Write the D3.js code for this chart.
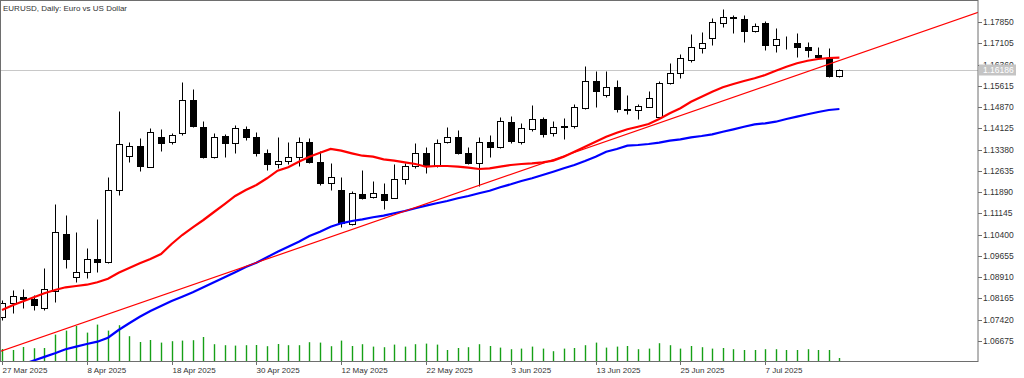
<!DOCTYPE html>
<html><head><meta charset="utf-8">
<script src="https://cdn.jsdelivr.net/npm/d3@7"></script>
<style>html,body{margin:0;padding:0;background:#fff;overflow:hidden}svg{display:block}</style>
</head><body><svg id="c" width="1024" height="378"></svg>
<script>
const dates = ["2025-03-27","2025-03-28","2025-03-31",
"2025-04-01","2025-04-02","2025-04-03","2025-04-04","2025-04-07","2025-04-08","2025-04-09","2025-04-10","2025-04-11","2025-04-14","2025-04-15","2025-04-16","2025-04-17","2025-04-18","2025-04-21","2025-04-22","2025-04-23","2025-04-24","2025-04-25","2025-04-28","2025-04-29","2025-04-30",
"2025-05-01","2025-05-02","2025-05-05","2025-05-06","2025-05-07","2025-05-08","2025-05-09","2025-05-12","2025-05-13","2025-05-14","2025-05-15","2025-05-16","2025-05-19","2025-05-20","2025-05-21","2025-05-22","2025-05-23","2025-05-26","2025-05-27","2025-05-28","2025-05-29","2025-05-30",
"2025-06-02","2025-06-03","2025-06-04","2025-06-05","2025-06-06","2025-06-09","2025-06-10","2025-06-11","2025-06-12","2025-06-13","2025-06-16","2025-06-17","2025-06-18","2025-06-19","2025-06-20","2025-06-23","2025-06-24","2025-06-25","2025-06-26","2025-06-27","2025-06-30",
"2025-07-01","2025-07-02","2025-07-03","2025-07-04","2025-07-07","2025-07-08","2025-07-09","2025-07-10","2025-07-11","2025-07-14","2025-07-15","2025-07-16"];

const open = [1.07505,1.08017,1.08206,1.08146,1.07821,1.08437,1.10423,1.08907,1.09103,1.09537,
1.09432,1.11965,1.13156,1.13506,1.12781,1.13832,1.13636,1.13951,1.15118,1.14161,
1.13110,1.13857,1.13601,1.14102,1.13832,1.13272,1.12865,1.12991,1.13110,1.13636,
1.12956,1.12200,1.11965,1.10763,1.11825,1.11709,1.11825,1.11695,1.12350,1.12806,
1.13250,1.12806,1.13636,1.13811,1.13272,1.12900,1.13657,1.13461,1.14357,1.13657,
1.14091,1.14442,1.13951,1.14182,1.14207,1.14827,1.15794,1.15293,1.15584,1.14802,
1.14767,1.14883,1.14533,1.15703,1.16053,1.16519,1.16929,1.17279,1.17826,1.18015,
1.17945,1.17545,1.17805,1.17044,1.17195,1.17104,1.16985,1.16694,1.16578,1.15958];
const high = [1.08111,1.08462,1.08486,1.08287,1.09243,1.11464,1.11089,1.10504,1.09923,1.10938,
1.12410,1.14743,1.13657,1.13776,1.14126,1.14091,1.13972,1.15759,1.15492,1.14382,
1.13972,1.13927,1.14242,1.14207,1.13986,1.13401,1.13811,1.13636,1.13811,1.13776,
1.13342,1.12900,1.12431,1.11940,1.12665,1.12280,1.12200,1.12865,1.12900,1.13622,
1.13461,1.13741,1.14182,1.14067,1.13461,1.13832,1.13892,1.14512,1.14557,1.14322,
1.14942,1.14533,1.14392,1.14477,1.14978,1.16309,1.16144,1.16144,1.15818,1.15293,
1.14978,1.15443,1.15794,1.16403,1.16729,1.17430,1.17510,1.17980,1.18295,1.18095,
1.18095,1.17826,1.17896,1.17629,1.17360,1.17475,1.17160,1.16985,1.16929,1.16193];
const low = [1.07411,1.07646,1.07821,1.07761,1.07761,1.08052,1.09222,1.08753,1.08872,1.09103,
1.09397,1.11790,1.12956,1.12641,1.12760,1.13342,1.13576,1.13892,1.14182,1.13075,
1.13075,1.13131,1.13272,1.13716,1.13156,1.12665,1.12725,1.12865,1.12806,1.12921,
1.12140,1.11965,1.10679,1.10739,1.11639,1.11690,1.11299,1.11674,1.12175,1.12725,
1.12550,1.12760,1.13601,1.13226,1.12865,1.12105,1.13131,1.13426,1.13622,1.13576,
1.14042,1.13832,1.13857,1.13741,1.14126,1.14802,1.14883,1.15233,1.14708,1.14627,
1.14442,1.14862,1.14512,1.15678,1.15878,1.16459,1.16775,1.17044,1.17685,1.17454,
1.17160,1.17489,1.16869,1.16810,1.16894,1.16613,1.16634,1.16578,1.15913,1.15934];
const close = [1.07996,1.08252,1.08136,1.07936,1.08486,1.10504,1.09548,1.09082,1.09537,1.09443,
1.11965,1.13566,1.13506,1.12806,1.13986,1.13622,1.13892,1.15118,1.14207,1.13110,
1.13832,1.13622,1.14126,1.13804,1.13272,1.12876,1.12981,1.13121,1.13657,1.12956,
1.12200,1.12431,1.10798,1.11849,1.11695,1.11849,1.11615,1.12350,1.12816,1.13250,
1.12806,1.13601,1.13811,1.13272,1.12900,1.13657,1.13461,1.14382,1.13692,1.14126,
1.14442,1.13927,1.14182,1.14207,1.14862,1.15783,1.15443,1.15563,1.14792,1.14767,
1.14907,1.15177,1.15724,1.16074,1.16578,1.16985,1.17104,1.17850,1.18036,1.17980,
1.17545,1.17710,1.17044,1.17244,1.17174,1.16985,1.16869,1.16634,1.15958,1.16186];
const volume = [60,55,70,64,65,132,152,175,142,182,
152,179,124,95,105,92,99,102,104,120,
84,79,77,79,80,74,85,79,79,94,
92,74,102,75,84,72,69,82,72,84,
87,82,55,65,69,84,75,67,59,62,
72,62,49,62,65,79,92,67,72,75,
59,62,89,79,62,75,69,62,65,59,
55,55,59,59,55,55,59,55,55,15];
const maRed = [1.07761,1.07926,1.08066,1.08206,1.08346,1.08462,1.08556,1.08602,1.08647,1.08731,
1.08858,1.09068,1.09232,1.09397,1.09548,1.09723,1.10073,1.10388,1.10658,1.10914,
1.11194,1.11474,1.11755,1.11965,1.12140,1.12375,1.12641,1.12760,1.12956,1.13131,
1.13272,1.13401,1.13342,1.13250,1.13166,1.13131,1.13040,1.12991,1.12935,1.12876,
1.12781,1.12806,1.12806,1.12781,1.12746,1.12700,1.12725,1.12781,1.12841,1.12876,
1.12900,1.12935,1.12991,1.13131,1.13307,1.13482,1.13657,1.13832,1.13972,1.14091,
1.14182,1.14277,1.14452,1.14652,1.14827,1.15058,1.15233,1.15408,1.15563,1.15678,
1.15783,1.15878,1.15993,1.16144,1.16284,1.16403,1.16494,1.16554,1.16589,1.16599];
const maBlue = [1.05589,1.05729,1.05862,1.05992,1.06118,1.06244,1.06384,1.06476,1.06570,1.06651,
1.06791,1.07060,1.07295,1.07526,1.07726,1.07901,1.08076,1.08227,1.08381,1.08556,
1.08731,1.08907,1.09082,1.09267,1.09418,1.09607,1.09803,1.09979,1.10154,1.10353,
1.10504,1.10679,1.10798,1.10879,1.10938,1.11009,1.11065,1.11149,1.11229,1.11324,
1.11415,1.11499,1.11580,1.11674,1.11755,1.11849,1.11940,1.12059,1.12165,1.12280,
1.12375,1.12490,1.12606,1.12725,1.12841,1.12981,1.13131,1.13307,1.13401,1.13517,
1.13541,1.13576,1.13622,1.13692,1.13741,1.13811,1.13857,1.13916,1.14007,1.14091,
1.14182,1.14266,1.14301,1.14357,1.14452,1.14533,1.14617,1.14697,1.14767,1.14802];
const trendIdx = [0, 79];
const trendPrice = [1.0633, 1.1650];
const priceTicks = ["1.06675","1.07420","1.08165","1.08910","1.09655","1.10400","1.11145","1.11890",
"1.12635","1.13380","1.14125","1.14870","1.15615","1.16360","1.17105","1.17850"];
const dateTickIdx = [0,8,16,24,32,40,48,56,64,72];
const dateTickLabels = ["27 Mar 2025","8 Apr 2025","18 Apr 2025","30 Apr 2025","12 May 2025",
"22 May 2025","3 Jun 2025","13 Jun 2025","25 Jun 2025","7 Jul 2025"];
const lastPrice = 1.16186;
const title = "EURUSD, Daily:  Euro vs US Dollar";

const L = 1, T = 1, R = 978, B = 361;
const svg = d3.select("#c");
const FONT = "'Liberation Sans', Arial, sans-serif";
const x = d3.scaleLinear().domain([0, 79]).range([2, 2 + 79 * 10.6]);
const y = d3.scaleLinear().domain([1.06675, 1.17850]).range([341, 22]);
const vy = d3.scaleLinear().domain([0, 200]).range([B, B - 40]);

svg.append("defs").append("clipPath").attr("id", "clip")
  .append("rect").attr("x", L).attr("y", T).attr("width", R - L).attr("height", B - T);

const plot = svg.append("g").attr("clip-path", "url(#clip)");
const cx = i => Math.round(x(i)) + 0.5;
const ry = v => Math.round(y(v)) + 0.5;

// last price line
plot.append("line").attr("x1", L).attr("x2", R).attr("y1", ry(lastPrice)).attr("y2", ry(lastPrice))
  .attr("stroke", "#c8c8c8").attr("stroke-width", 1);

// volumes
plot.selectAll("line.vol").data(volume).join("line").attr("class", "vol")
  .attr("x1", (d, i) => cx(i)).attr("x2", (d, i) => cx(i))
  .attr("y1", B).attr("y2", d => vy(d))
  .attr("stroke", "#16a016").attr("stroke-width", 1.4);

// candles
const idx = d3.range(open.length);
plot.selectAll("line.wick").data(idx).join("line").attr("class", "wick")
  .attr("x1", i => cx(i)).attr("x2", i => cx(i))
  .attr("y1", i => ry(high[i])).attr("y2", i => ry(low[i]))
  .attr("stroke", "#000").attr("stroke-width", 1);
plot.selectAll("rect.body").data(idx).join("rect").attr("class", "body")
  .attr("x", i => cx(i) - 3).attr("width", 6)
  .attr("y", i => ry(Math.max(open[i], close[i])))
  .attr("height", i => Math.max(0, ry(Math.min(open[i], close[i])) - ry(Math.max(open[i], close[i]))))
  .attr("fill", i => close[i] >= open[i] ? "#fff" : "#000")
  .attr("stroke", "#000").attr("stroke-width", 1);

// moving averages
const line = d3.line().x((d, i) => x(i)).y(d => y(d));
plot.append("path").datum(maBlue).attr("d", line).attr("fill", "none")
  .attr("stroke", "#0000ff").attr("stroke-width", 2.2);
plot.append("path").datum(maRed).attr("d", line).attr("fill", "none")
  .attr("stroke", "#ff0000").attr("stroke-width", 2.2);

// trend line (ray)
const slope = (trendPrice[1] - trendPrice[0]) / (trendIdx[1] - trendIdx[0]);
const i0 = x.invert(L - 2), i1 = x.invert(R + 2);
plot.append("line")
  .attr("x1", x(i0)).attr("y1", y(trendPrice[0] + slope * (i0 - trendIdx[0])))
  .attr("x2", x(i1)).attr("y2", y(trendPrice[0] + slope * (i1 - trendIdx[0])))
  .attr("stroke", "#ff0000").attr("stroke-width", 1.2);

// frame
svg.append("rect").attr("x", 0.5).attr("y", 0.5).attr("width", R - 0.5).attr("height", B)
  .attr("fill", "none").attr("stroke", "#6e6e6e").attr("stroke-width", 1);

// price axis
const pa = svg.append("g");
priceTicks.forEach(t => {
  const yy = ry(+t);
  pa.append("line").attr("x1", R).attr("x2", R + 4).attr("y1", yy).attr("y2", yy)
    .attr("stroke", "#6e6e6e");
  pa.append("text").attr("x", R + 5).attr("y", yy).attr("dy", "0.35em")
    .attr("font-family", FONT).attr("font-size", "8.5px").attr("fill", "#333").text(t);
});
// last price tag
pa.append("rect").attr("x", R + 1).attr("y", ry(lastPrice) - 6).attr("width", 37).attr("height", 11)
  .attr("fill", "#c4c4c4");
pa.append("text").attr("x", R + 5).attr("y", ry(lastPrice)).attr("dy", "0.35em")
  .attr("font-family", FONT).attr("font-size", "8.5px").attr("fill", "#fff").text(lastPrice.toFixed(5));

// time axis
const ta = svg.append("g");
dateTickIdx.forEach((di, k) => {
  const xx = cx(di);
  ta.append("line").attr("x1", xx).attr("x2", xx).attr("y1", B).attr("y2", B + 4)
    .attr("stroke", "#6e6e6e");
  ta.append("text").attr("x", xx).attr("y", 373)
    .attr("font-family", FONT).attr("font-size", "8px").attr("fill", "#333").text(dateTickLabels[k]);
});

// title
svg.append("text").attr("x", 3).attr("y", 11).attr("font-family", FONT).attr("font-size", "8px")
  .attr("fill", "#333").text(title);
</script></body></html>
